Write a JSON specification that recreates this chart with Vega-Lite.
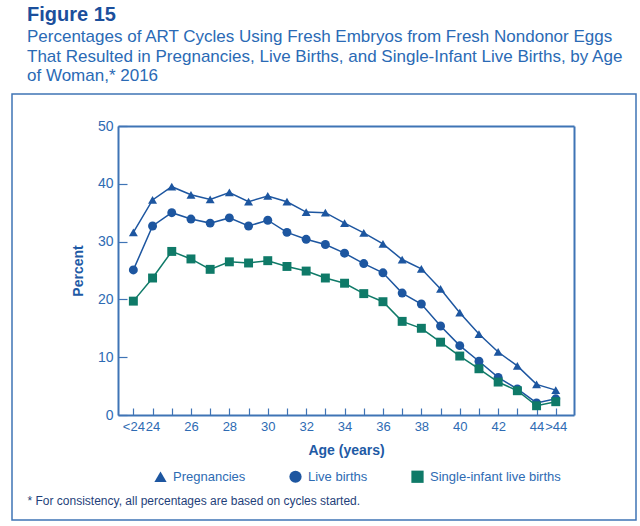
{
  "$schema": "https://vega.github.io/schema/vega-lite/v6.json",
  "autosize": {"type": "none"},
  "width": 624,
  "height": 426,
  "padding": {"left": 12, "top": 94, "right": 4, "bottom": 6},
  "background": "white",
  "config": {"font": "Liberation Sans", "view": {"stroke": "#3f74b5", "strokeWidth": 1.5}},
  "title": {
    "text": "Figure 15",
    "subtitle": ["Percentages of ART Cycles Using Fresh Embryos from Fresh Nondonor Eggs", "That Resulted in Pregnancies, Live Births, and Single-Infant Live Births, by Age", "of Woman,* 2016"],
    "anchor": "start", "frame": "group", "dx": 15, "offset": 10,
    "font": "Liberation Sans", "fontSize": 20, "fontWeight": "bold", "color": "#1b4f9c",
    "subtitleFont": "Liberation Sans", "subtitleFontSize": 17, "subtitleColor": "#2a6ab5", "subtitleLineHeight": 19.5, "subtitlePadding": 4
  },
  "data": {"values": [
    {"age": 23, "series": "Pregnancies", "value": 31.6},
    {"age": 24, "series": "Pregnancies", "value": 37.2},
    {"age": 25, "series": "Pregnancies", "value": 39.5},
    {"age": 26, "series": "Pregnancies", "value": 38.1},
    {"age": 27, "series": "Pregnancies", "value": 37.3},
    {"age": 28, "series": "Pregnancies", "value": 38.5},
    {"age": 29, "series": "Pregnancies", "value": 36.9},
    {"age": 30, "series": "Pregnancies", "value": 37.9},
    {"age": 31, "series": "Pregnancies", "value": 36.9},
    {"age": 32, "series": "Pregnancies", "value": 35.1},
    {"age": 33, "series": "Pregnancies", "value": 35.0},
    {"age": 34, "series": "Pregnancies", "value": 33.2},
    {"age": 35, "series": "Pregnancies", "value": 31.5},
    {"age": 36, "series": "Pregnancies", "value": 29.6},
    {"age": 37, "series": "Pregnancies", "value": 26.9},
    {"age": 38, "series": "Pregnancies", "value": 25.3},
    {"age": 39, "series": "Pregnancies", "value": 21.8},
    {"age": 40, "series": "Pregnancies", "value": 17.7},
    {"age": 41, "series": "Pregnancies", "value": 14.0},
    {"age": 42, "series": "Pregnancies", "value": 10.9},
    {"age": 43, "series": "Pregnancies", "value": 8.5},
    {"age": 44, "series": "Pregnancies", "value": 5.3},
    {"age": 45, "series": "Pregnancies", "value": 4.3},
    {"age": 23, "series": "Live births", "value": 25.1},
    {"age": 24, "series": "Live births", "value": 32.7},
    {"age": 25, "series": "Live births", "value": 35.0},
    {"age": 26, "series": "Live births", "value": 33.9},
    {"age": 27, "series": "Live births", "value": 33.2},
    {"age": 28, "series": "Live births", "value": 34.1},
    {"age": 29, "series": "Live births", "value": 32.7},
    {"age": 30, "series": "Live births", "value": 33.7},
    {"age": 31, "series": "Live births", "value": 31.6},
    {"age": 32, "series": "Live births", "value": 30.4},
    {"age": 33, "series": "Live births", "value": 29.5},
    {"age": 34, "series": "Live births", "value": 28.0},
    {"age": 35, "series": "Live births", "value": 26.2},
    {"age": 36, "series": "Live births", "value": 24.6},
    {"age": 37, "series": "Live births", "value": 21.1},
    {"age": 38, "series": "Live births", "value": 19.2},
    {"age": 39, "series": "Live births", "value": 15.4},
    {"age": 40, "series": "Live births", "value": 12.0},
    {"age": 41, "series": "Live births", "value": 9.3},
    {"age": 42, "series": "Live births", "value": 6.5},
    {"age": 43, "series": "Live births", "value": 4.5},
    {"age": 44, "series": "Live births", "value": 2.1},
    {"age": 45, "series": "Live births", "value": 2.8},
    {"age": 23, "series": "Single-infant live births", "value": 19.7},
    {"age": 24, "series": "Single-infant live births", "value": 23.7},
    {"age": 25, "series": "Single-infant live births", "value": 28.3},
    {"age": 26, "series": "Single-infant live births", "value": 27.0},
    {"age": 27, "series": "Single-infant live births", "value": 25.2},
    {"age": 28, "series": "Single-infant live births", "value": 26.5},
    {"age": 29, "series": "Single-infant live births", "value": 26.3},
    {"age": 30, "series": "Single-infant live births", "value": 26.7},
    {"age": 31, "series": "Single-infant live births", "value": 25.7},
    {"age": 32, "series": "Single-infant live births", "value": 24.9},
    {"age": 33, "series": "Single-infant live births", "value": 23.7},
    {"age": 34, "series": "Single-infant live births", "value": 22.8},
    {"age": 35, "series": "Single-infant live births", "value": 21.0},
    {"age": 36, "series": "Single-infant live births", "value": 19.6},
    {"age": 37, "series": "Single-infant live births", "value": 16.2},
    {"age": 38, "series": "Single-infant live births", "value": 15.0},
    {"age": 39, "series": "Single-infant live births", "value": 12.6},
    {"age": 40, "series": "Single-infant live births", "value": 10.2},
    {"age": 41, "series": "Single-infant live births", "value": 8.0},
    {"age": 42, "series": "Single-infant live births", "value": 5.7},
    {"age": 43, "series": "Single-infant live births", "value": 4.2},
    {"age": 44, "series": "Single-infant live births", "value": 1.6},
    {"age": 45, "series": "Single-infant live births", "value": 2.3}
  ]},
  "layer": [
    {
      "mark": {"type": "line", "strokeWidth": 1.5},
      "encoding": {
        "x": {"field": "age", "type": "quantitative",
          "scale": {"domain": [22.2, 45.95], "range": [106, 562], "nice": false, "zero": false},
          "axis": {"orient": "bottom", "offset": -105, "values": [23,24,25,26,27,28,29,30,31,32,33,34,35,36,37,38,39,40,41,42,43,44,45],
            "labelExpr": "datum.value == 23 ? '<24' : datum.value == 45 ? '>44' : (datum.value % 2 == 0 ? datum.label : '')",
            "tickSize": -7, "tickColor": "#3f74b5", "tickWidth": 1.2, "domainColor": "#3f74b5", "domainWidth": 2,
            "labelColor": "#2e6bb3", "labelFontSize": 13, "labelPadding": 12, "labelOverlap": false, "labelFlush": false,
            "title": "Age (years)", "titleFontSize": 14, "titleFontWeight": "bold", "titleColor": "#1e5aa5", "titlePadding": 10, "grid": false}},
        "y": {"field": "value", "type": "quantitative",
          "scale": {"domain": [0, 50], "range": [321, 32], "nice": false},
          "axis": {"orient": "left", "offset": -106, "values": [0, 10, 20, 30, 40, 50],
            "tickSize": -9, "tickColor": "#3f74b5", "tickWidth": 1.2, "domainColor": "#3f74b5", "domainWidth": 2,
            "labelColor": "#2e6bb3", "labelFontSize": 14, "labelPadding": 14,
            "title": "Percent", "titleFontSize": 14, "titleFontWeight": "bold", "titleColor": "#1e5aa5", "titlePadding": 12, "grid": false}},
        "color": {"field": "series", "type": "nominal",
          "scale": {"domain": ["Pregnancies", "Live births", "Single-infant live births"], "range": ["#1d56a0", "#1d56a0", "#0f7a68"]},
          "legend": {"orient": "none", "legendX": 142, "legendY": 376, "direction": "horizontal", "title": null,
            "labelFontSize": 13, "labelColor": "#2e6bb3", "symbolSize": 150, "columnPadding": 43, "padding": 0, "labelOffset": 6, "symbolStrokeWidth": 0}}
      }
    },
    {
      "mark": {"type": "point", "filled": true, "size": 80, "opacity": 1},
      "encoding": {
        "x": {"field": "age", "type": "quantitative", "axis": null},
        "y": {"field": "value", "type": "quantitative", "axis": null},
        "color": {"field": "series", "type": "nominal",
          "legend": {"orient": "none", "legendX": 142, "legendY": 376, "direction": "horizontal", "title": null,
            "labelFontSize": 13, "labelColor": "#2e6bb3", "symbolSize": 150, "columnPadding": 43, "padding": 0, "labelOffset": 6, "symbolStrokeWidth": 0}},
        "shape": {"field": "series", "type": "nominal",
          "scale": {"domain": ["Pregnancies", "Live births", "Single-infant live births"], "range": ["triangle-up", "circle", "square"]},
          "legend": {"orient": "none", "legendX": 142, "legendY": 376, "direction": "horizontal", "title": null,
            "labelFontSize": 13, "labelColor": "#2e6bb3", "symbolSize": 150, "columnPadding": 43, "padding": 0, "labelOffset": 6, "symbolStrokeWidth": 0}}
      }
    },
    {
      "mark": {"type": "point", "opacity": 0},
      "encoding": {
        "x": {"field": "age", "type": "quantitative",
          "axis": {"orient": "top", "offset": -32, "labels": false, "ticks": false, "domainColor": "#3f74b5", "domainWidth": 2, "grid": false,
            "title": "* For consistency, all percentages are based on cycles started.",
            "titleX": 15, "titleY": 374, "titleAlign": "left", "titleBaseline": "middle", "titleAngle": 0,
            "titleFontSize": 12, "titleFontWeight": "normal", "titleColor": "#1f3f7a"}},
        "y": {"field": "value", "type": "quantitative",
          "axis": {"orient": "right", "offset": -62, "labels": false, "ticks": false, "domainColor": "#3f74b5", "domainWidth": 2, "grid": false, "title": null}}
      }
    }
  ],
  "resolve": {"axis": {"x": "independent", "y": "independent"}}
}
